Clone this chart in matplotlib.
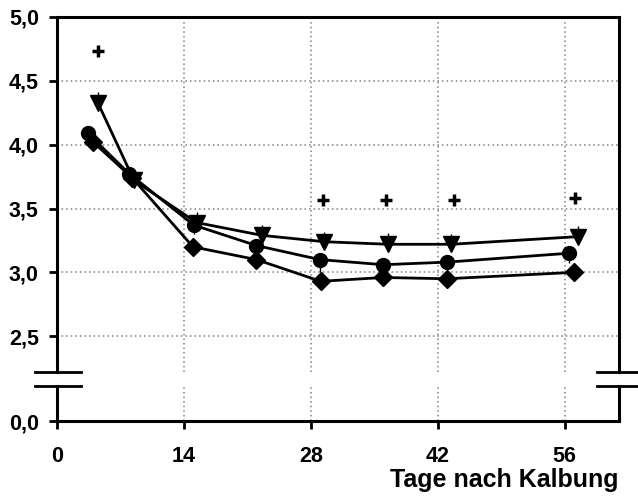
import numpy as np
import matplotlib
matplotlib.use("Agg")
import matplotlib.pyplot as plt

plt.rcParams['font.family'] = ['Liberation Sans', 'DejaVu Sans']
plt.rcParams['font.weight'] = 'bold'

# Messwerte (Tage nach Kalbung)
tri_x = [4.5, 8.5, 15.4, 22.6, 29.5, 36.5, 43.5, 57.5]
tri_y = [4.33, 3.72, 3.39, 3.29, 3.24, 3.22, 3.22, 3.28]
tri_err = [0.08, 0.08, 0.08, 0.08, 0.08, 0.09, 0.08, 0.08]

circ_x = [3.4, 8.0, 15.1, 22.0, 29.0, 36.0, 43.0, 56.5]
circ_y = [4.09, 3.77, 3.37, 3.21, 3.10, 3.06, 3.08, 3.15]
circ_err = [0.05, 0.05, 0.07, 0.05, 0.10, 0.05, 0.05, 0.08]

dia_x = [4.0, 8.3, 15.0, 22.0, 29.1, 36.0, 43.0, 57.0]
dia_y = [4.02, 3.74, 3.20, 3.10, 2.93, 2.96, 2.95, 3.00]
dia_err = [0.05, 0.05, 0.07, 0.05, 0.06, 0.05, 0.05, 0.06]

plus_x = [4.5, 29.3, 36.3, 43.8, 57.1]
plus_y = [4.73, 3.57, 3.57, 3.57, 3.58]

x_ticks = [0, 14, 28, 42, 56]
y_ticks = [2.5, 3.0, 3.5, 4.0, 4.5, 5.0]

# unterer Achsenbereich gestaucht: "0,0" sitzt direkt unter dem Achsenbruch
y_zero = 1.836
brk_lo, brk_hi = 2.11, 2.22

fig = plt.figure(figsize=(6.38, 4.98), dpi=100)
ax = fig.add_axes([0.0893, 0.1546, 0.8809, 0.8113])
ax.set_xlim(0, 62)
ax.set_ylim(y_zero, 5.0)

grid_kw = dict(color='#808080', lw=1.1, ls=(0, (1, 2.0)), zorder=1)
for yv in y_ticks[:-1]:
    ax.axhline(yv, **grid_kw)
for xv in x_ticks[1:]:
    ax.plot([xv, xv], [y_zero, brk_lo], **grid_kw)
    ax.plot([xv, xv], [brk_hi, 5.0], **grid_kw)

eb_kw = dict(color='black', lw=1.0, capsize=0, zorder=2)
ax.errorbar(tri_x, tri_y, yerr=[np.zeros(len(tri_err)), tri_err], fmt='none', **eb_kw)
ax.errorbar(circ_x, circ_y, yerr=[circ_err, np.zeros(len(circ_err))], fmt='none', **eb_kw)
ax.errorbar(dia_x, dia_y, yerr=[np.zeros(len(dia_err)), dia_err], fmt='none',
            color='#1a1a80', lw=1.0, zorder=2)

ax.plot(dia_x, dia_y, color='black', lw=2.0, marker='D', ms=9, zorder=3)
ax.plot(circ_x, circ_y, color='black', lw=2.0, marker='o', ms=10, zorder=3)
ax.plot(tri_x, tri_y, color='black', lw=2.0, marker='v', ms=11, zorder=3)
ax.plot(plus_x, plus_y, ls='none', marker='+', ms=8, mew=2.5, color='black', zorder=3)

# Rahmen mit Achsenbruch links und rechts
for side in ['left', 'right']:
    ax.spines[side].set_visible(False)
for s in ['top', 'bottom']:
    ax.spines[s].set_linewidth(2.2)
for xa in [0, 62]:
    ax.plot([xa, xa], [y_zero, brk_lo], color='black', lw=2.2, clip_on=False, zorder=4,
            solid_capstyle='projecting')
    ax.plot([xa, xa], [brk_hi, 5.0], color='black', lw=2.2, clip_on=False, zorder=4,
            solid_capstyle='projecting')
    for yb in [brk_lo, brk_hi]:
        ax.plot([xa - 2.4, xa + 2.6], [yb, yb], color='black', lw=2.0,
                clip_on=False, zorder=4)

ax.set_xticks(x_ticks)
ax.set_xticklabels([str(v) for v in x_ticks])
ax.set_yticks([y_zero] + y_ticks)
ax.set_yticklabels(['0,0'] + [f'{v:.1f}'.replace('.', ',') for v in y_ticks])
ax.tick_params(axis='both', direction='out', length=6, width=2.0, labelsize=15.5)
ax.tick_params(axis='x', pad=12)
ax.tick_params(axis='y', pad=7)

ax.set_xlabel('Tage nach Kalbung', fontsize=18, fontweight='bold', loc='right', labelpad=1)

fig.savefig('out.png', dpi=100)
